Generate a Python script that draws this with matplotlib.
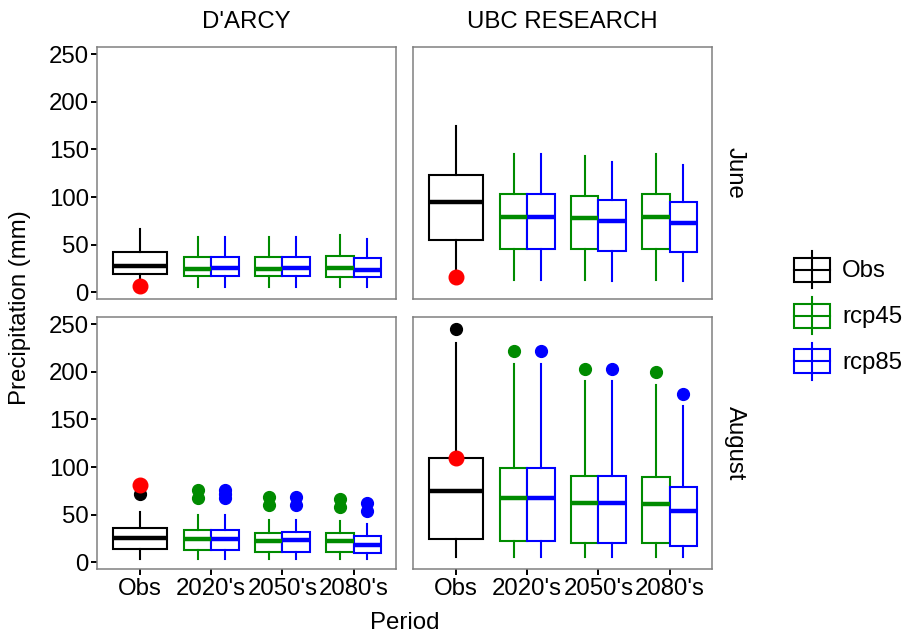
import matplotlib
matplotlib.use("Agg")
import matplotlib.pyplot as plt
from matplotlib.patches import Rectangle
from matplotlib.lines import Line2D

plt.rcParams['font.family'] = ['Liberation Sans', 'DejaVu Sans']

# ---------------- data ----------------
periods = ["Obs", "2020's", "2050's", "2080's"]
stations = ["D'ARCY", "UBC RESEARCH"]
months = ["June", "August"]
scenarios = ["Obs", "rcp45", "rcp85"]
colors = {"Obs": "black", "rcp45": "#008B00", "rcp85": "#0000FF"}

# each box: [whisker low, q1, median, q3, whisker high]
# D'ARCY - June
dj_obs = [7.0, 18.9, 28.0, 42.0, 66.2]
dj_obs_fliers = []
dj_rcp45 = [[5.9, 17.1, 24.8, 36.7, 58.4], [5.9, 16.8, 24.8, 36.7, 58.4], [5.9, 16.4, 25.5, 38.1, 60.2]]
dj_rcp45_fliers = [[], [], []]
dj_rcp85 = [[5.9, 16.8, 25.5, 36.7, 58.4], [5.9, 17.0, 25.5, 36.7, 58.4], [5.9, 16.1, 23.4, 35.7, 56.3]]
dj_rcp85_fliers = [[], [], []]
dj_point = 6.6

# UBC RESEARCH - June
uj_obs = [16.0, 54.9, 94.9, 123.2, 174.7]
uj_obs_fliers = []
uj_rcp45 = [[12.9, 45.8, 79.1, 102.9, 145.3], [12.9, 45.1, 78.0, 101.5, 143.5], [12.9, 45.8, 79.1, 102.9, 145.3]]
uj_rcp45_fliers = [[], [], []]
uj_rcp85 = [[12.9, 45.8, 79.1, 102.9, 145.3], [12.2, 43.4, 74.9, 97.0, 137.2], [12.2, 42.3, 72.8, 94.5, 133.7]]
uj_rcp85_fliers = [[], [], []]
uj_point = 15.7

# D'ARCY - August
da_obs = [3.8, 13.6, 25.5, 36.4, 52.8]
da_obs_fliers = [71.4]
da_rcp45 = [[3.8, 12.9, 24.1, 34.3, 49.3], [3.8, 11.2, 22.7, 31.1, 44.8], [3.8, 10.5, 22.7, 30.4, 43.4]]
da_rcp45_fliers = [[67.2, 75.9], [60.2, 68.2], [58.4, 66.1]]
da_rcp85 = [[3.8, 12.9, 24.1, 34.3, 49.3], [3.8, 11.2, 23.4, 31.4, 44.8], [3.1, 9.4, 18.5, 27.3, 39.9]]
da_rcp85_fliers = [[67.2, 72.0, 75.9], [60.2, 68.2], [53.9, 62.0]]
da_point = 81.5

# UBC RESEARCH - August
ua_obs = [5.9, 24.1, 74.9, 109.9, 230.0]
ua_obs_fliers = [245.0]
ua_rcp45 = [[5.9, 22.4, 67.9, 99.4, 208.3], [5.9, 20.6, 62.6, 90.6, 190.4], [5.9, 19.9, 60.9, 89.6, 186.2]]
ua_rcp45_fliers = [[222.3], [203.0], [199.6]]
ua_rcp85 = [[5.9, 22.4, 67.9, 99.4, 208.3], [5.9, 20.6, 62.6, 90.6, 190.4], [5.2, 17.1, 53.9, 78.8, 164.2]]
ua_rcp85_fliers = [[222.3], [203.0], [176.8]]
ua_point = 109.5

panels = {
    (0, 0): (dj_obs, dj_obs_fliers, dj_rcp45, dj_rcp45_fliers, dj_rcp85, dj_rcp85_fliers, dj_point),
    (0, 1): (uj_obs, uj_obs_fliers, uj_rcp45, uj_rcp45_fliers, uj_rcp85, uj_rcp85_fliers, uj_point),
    (1, 0): (da_obs, da_obs_fliers, da_rcp45, da_rcp45_fliers, da_rcp85, da_rcp85_fliers, da_point),
    (1, 1): (ua_obs, ua_obs_fliers, ua_rcp45, ua_rcp45_fliers, ua_rcp85, ua_rcp85_fliers, ua_point),
}

yticks = [0, 50, 100, 150, 200, 250]

# ---------------- figure ----------------
W, H = 904, 639
fig = plt.figure(figsize=(W / 100, H / 100), dpi=100)

FS = 17.3
lefts = [97.3, 413.3]
tops = [47.3, 317.3]
pw, ph = 299.0, 252.0
border = '#808080'


def stat(v, fl):
    return dict(whislo=v[0], q1=v[1], med=v[2], q3=v[3], whishi=v[4], fliers=fl)


def draw_boxes(ax, stats, positions, width, color):
    ax.bxp(stats, positions=positions, widths=width, patch_artist=True,
           showcaps=False, manage_ticks=False,
           boxprops=dict(facecolor='white', edgecolor=color, linewidth=1.5),
           whiskerprops=dict(color=color, linewidth=1.5),
           medianprops=dict(color=color, linewidth=3.2, solid_capstyle='butt'),
           flierprops=dict(marker='o', markerfacecolor=color, markeredgecolor=color,
                           markersize=8.5, linestyle='none'))


axes = {}
for r in range(2):
    for c in range(2):
        ax = fig.add_axes([lefts[c] / W, 1 - (tops[r] + ph) / H, pw / W, ph / H])
        axes[(r, c)] = ax
        obs, obs_fl, r45, r45_fl, r85, r85_fl, pt = panels[(r, c)]
        xs = list(range(1, len(periods) + 1))
        draw_boxes(ax, [stat(obs, obs_fl)], [xs[0]], 0.77, colors["Obs"])
        draw_boxes(ax, [stat(v, f) for v, f in zip(r45, r45_fl)],
                   [x - 0.1925 for x in xs[1:]], 0.385, colors["rcp45"])
        draw_boxes(ax, [stat(v, f) for v, f in zip(r85, r85_fl)],
                   [x + 0.1925 for x in xs[1:]], 0.385, colors["rcp85"])
        ax.plot([xs[0]], [pt], 'o', color='red', markersize=10.5, zorder=5)

        ax.set_xlim(0.4, 4.6)
        ax.set_ylim(-7.35, 257.35)
        ax.set_facecolor('white')
        for s in ax.spines.values():
            s.set_color(border)
            s.set_linewidth(1.1)
        ax.tick_params(axis='both', length=4, width=1.4, color='black',
                       labelsize=FS, labelcolor='black', pad=2)
        ax.set_xticks(xs)
        if r == 1:
            ax.set_xticklabels(periods)
        else:
            ax.tick_params(axis='x', bottom=False, labelbottom=False)
        ax.set_yticks(yticks)
        if c == 0:
            ax.set_yticklabels([str(t) for t in yticks])
        else:
            ax.tick_params(axis='y', left=False, labelleft=False)

# strip labels
for c, name in enumerate(stations):
    fig.text((lefts[c] + pw / 2) / W, 1 - 22 / H, name, ha='center', va='center', fontsize=FS)
for r, name in enumerate(months):
    fig.text(735 / W, 1 - (tops[r] + ph / 2) / H, name, ha='center', va='center',
             rotation=-90, fontsize=FS)

# axis titles
fig.text(20 / W, 1 - 308 / H, "Precipitation (mm)", ha='center', va='center',
         rotation=90, fontsize=FS)
fig.text(405 / W, 1 - 623 / H, "Period", ha='center', va='center', fontsize=FS)

# legend (drawn as key glyphs)
lax = fig.add_axes([0, 0, 1, 1])
lax.set_xlim(0, W)
lax.set_ylim(H, 0)
lax.axis('off')
key_centers = [269.5, 315.5, 361.0]
for name, yc in zip(scenarios, key_centers):
    col = colors[name]
    lax.add_line(Line2D([812, 812], [yc - 18.5, yc + 18.5], color=col, lw=1.5))
    lax.add_patch(Rectangle((794, yc - 12), 36, 24, facecolor='white', edgecolor=col, lw=1.5))
    lax.add_line(Line2D([794, 830], [yc, yc], color=col, lw=1.5))
    lax.text(842, yc + 1.5, name, ha='left', va='center', fontsize=FS)

fig.savefig("out.png", dpi=100)
